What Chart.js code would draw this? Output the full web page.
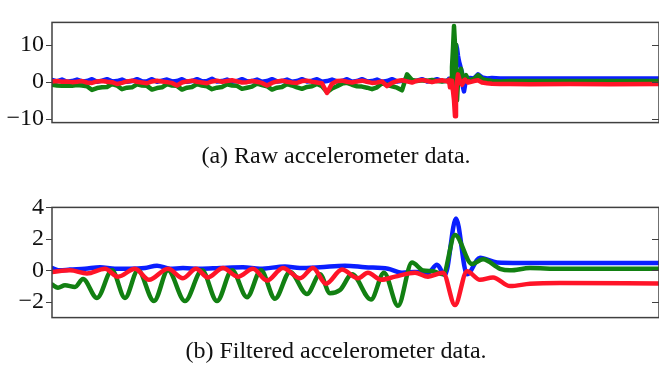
<!DOCTYPE html>
<html>
<head>
<meta charset="utf-8">
<script src="https://cdn.jsdelivr.net/npm/chart.js@4.4.1/dist/chart.umd.min.js"></script>
<style>
body { margin: 0; background: #fff; width: 659px; height: 383px; overflow: hidden; position: relative; }
canvas { position: absolute; left: 0; }
#raw { top: 0; }
#filt { top: 185px; }
.cap { position: absolute; left: 0; width: 672px; text-align: center; font-family: "Liberation Serif", "Times New Roman", Times, "DejaVu Serif", serif; font-size: 24px; line-height: 24px; color: #111; }
</style>
</head>
<body>
<canvas id="raw" width="659" height="145"></canvas>
<div class="cap" style="top:143px">(a) Raw accelerometer data.</div>
<canvas id="filt" width="659" height="155"></canvas>
<div class="cap" style="top:338px">(b) Filtered accelerometer data.</div>
<script>
// raw samples (shared time base)
const rawTime = [
  0,5,10,15,20,25,30,35,40,45,
  50,55,60,65,70,75,80,85,90,95,
  100,105,110,115,120,125,130,135,140,145,
  150,155,160,165,170,175,180,185,190,195,
  200,205,210,215,220,225,230,235,240,245,
  250,255,260,265,270,275,280,285,290,295,
  300,305,310,315,320,325,330,335,340,345,
  350,355,360,365,370,375,380,385,390,395,
  396,397,398,399,400,401,402,403,404,405,406,407,408,409,410,411,412,413,414,415,416,417,418,
  422,426,430,435,440,448,458,478,518,558,607
];
const rawBlue = [
  0.5,0.1,0.6,0.0,0.2,0.6,0.1,0.2,0.7,0.0,
  0.3,0.7,0.1,0.2,0.6,0.0,0.2,0.7,0.1,0.1,
  0.7,0.0,0.3,0.6,0.1,0.2,0.7,0.0,0.2,0.7,
  0.1,0.2,0.8,0.1,0.2,0.6,0.0,0.2,0.7,0.1,
  0.2,0.6,0.0,0.2,0.7,0.1,0.2,0.6,0.0,0.2,
  0.7,0.1,0.3,0.7,0.0,0.2,0.6,0.1,0.2,0.7,
  0.0,0.2,0.7,0.1,0.2,0.6,0.0,0.2,0.7,0.1,
  0.3,0.8,0.2,0.3,0.7,0.1,0.3,0.7,0.2,0.3,
  0.4,0.8,0.2,-0.6,0.5,2.0,5.0,8.0,10.0,9.0,7.0,5.5,4.5,3.5,2.5,-1.5,-2.6,-1.0,0.5,1.2,0.8,0.6,1.0,
  0.9,2.0,1.2,0.9,1.0,0.9,0.9,0.9,0.9,0.9,0.9
];
const rawGreen = [
  -0.8,-1.0,-1.1,-1.0,-1.1,-0.9,-1.0,-1.2,-2.2,-1.7,
  -1.5,-1.4,-0.6,-1.0,-2.0,-1.6,-1.5,-0.7,-1.0,-1.1,
  -2.1,-1.7,-1.5,-0.6,-1.0,-1.1,-2.1,-1.6,-1.4,-0.6,
  -1.0,-1.2,-2.0,-1.6,-1.4,-0.7,-1.0,-1.1,-1.9,-1.6,
  -1.3,-0.5,-0.9,-1.2,-2.1,-1.6,-1.4,-0.6,-1.0,-1.5,
  -1.9,-1.4,-1.2,-0.6,-1.2,-2.8,-1.8,-1.2,-0.5,-0.3,
  -0.8,-1.2,-1.3,-1.6,-2.0,-1.5,-0.4,-0.8,-1.2,-1.6,
  -2.3,2.0,0.5,0.2,0.4,0.3,0.5,0.2,0.1,0.3,
  0.2,0.0,-0.5,1.0,4.0,9.0,15.0,10.0,2.0,-5.0,0.0,3.0,2.5,3.5,2.0,0.5,1.0,1.5,1.8,1.2,0.6,0.3,0.5,
  0.8,1.8,0.8,0.4,0.2,0.1,0.2,0.2,0.2,0.2,0.2
];
const rawRed = [
  0.1,0.2,0.0,0.1,-0.1,0.0,0.2,-0.2,-0.3,0.1,
  0.2,0.0,-0.1,-0.6,-0.3,0.1,0.3,0.0,-0.2,-0.4,
  0.1,0.3,0.1,-0.1,-0.3,-1.0,-0.2,0.1,0.3,0.0,
  -0.2,-0.4,0.1,0.3,0.0,0.2,0.4,0.1,-0.2,-0.1,
  0.2,0.0,-0.3,-1.0,-0.3,0.1,0.3,0.0,-0.2,-0.3,
  0.2,0.3,0.0,-0.2,-0.4,-3.0,-0.5,0.2,0.3,0.0,
  -0.2,0.1,0.3,0.0,-0.3,-0.2,0.1,-1.2,-0.3,0.2,
  0.4,0.1,-0.2,0.3,0.5,0.2,-0.1,0.2,0.4,0.1,
  0.3,0.5,-1.5,0.3,-1.0,-2.5,-5.0,-9.3,-4.0,0.0,2.0,1.0,0.2,-0.5,-0.8,-0.3,0.4,0.6,0.3,0.0,-0.2,0.1,-0.1,
  0.2,0.4,-0.2,-0.4,-0.5,-0.6,-0.6,-0.65,-0.6,-0.65,-0.6
];

// filtered signals (sample time, value)
const filtBlueT = [0,8,18,33,48,63,78,93,105,118,131,148,168,191,208,233,248,268,293,313,336,350,363,376,385,393,404,415,428,445,468,607];
const filtBlue  = [0.15,0,0.05,0.1,0.2,0.1,0.1,0.15,0.3,0.1,0.15,0.1,0.15,0.2,0.1,0.25,0.15,0.2,0.3,0.2,0.1,-0.15,-0.1,-0.15,0.35,-0.3,3.3,-0.25,0.8,0.5,0.47,0.47];
const filtGreenT = [0,6,13,23,31,45,60,73,86,102,116,133,150,165,180,195,209,223,238,255,268,278,288,300,319,332,346,360,371,381,391,403,420,431,448,458,478,508,607];
const filtGreen  = [-0.9,-1.1,-0.95,-1.05,-0.55,-1.75,0,-1.75,0,-1.95,0,-1.95,0,-1.95,0,-1.7,0,-1.8,-0.1,-1.5,-0.25,-1.45,-1.25,-0.25,-1.85,-0.15,-2.25,0.5,0,-0.05,-0.25,2.25,0.4,0.7,0.1,0.0,0.15,0.1,0.1];
const filtRedT = [0,18,35,53,66,83,97,116,131,144,156,171,186,201,215,231,248,261,274,290,306,316,329,343,363,376,391,403,415,428,441,458,478,508,607];
const filtRed  = [-0.1,0,-0.2,0.1,-0.4,0.1,-0.6,0.1,-0.5,0.1,-0.45,0.15,-0.4,0.1,-0.65,0.15,-0.5,0.15,-0.85,0.05,-0.5,-0.15,-0.6,-0.4,-0.15,-0.4,-0.15,-2.2,-0.05,-0.6,-0.45,-1.0,-0.85,-0.8,-0.83];

const rawTicks = [-10, 0, 10];
const filtTicks = [-2, 0, 2, 4];

const BLUE = '#0a1eff', GREEN = '#128012', RED = '#ff1428';
const SERIF = '"Liberation Serif", "Times New Roman", Times, "DejaVu Serif", serif';

const frame = {
  id: 'frame',
  afterDraw(chart) {
    const { ctx, chartArea: a } = chart;
    const y = chart.scales.y;
    ctx.save();
    ctx.strokeStyle = '#404040';
    ctx.lineWidth = 1.5;
    ctx.strokeRect(a.left, a.top, a.right - a.left, a.bottom - a.top);
    ctx.lineWidth = 1.2;
    ctx.beginPath();
    y.ticks.forEach(t => {
      const py = Math.round(y.getPixelForValue(t.value)) + 0.5;
      ctx.moveTo(a.left - 6, py); ctx.lineTo(a.left, py);
      ctx.moveTo(a.right - 7, py); ctx.lineTo(a.right, py);
    });
    ctx.stroke();
    ctx.restore();
  }
};

function zip(t, v) { return t.map((x, i) => ({ x: x, y: v[i] })); }

function line(label, data, color, order, smooth) {
  return {
    label, data, order,
    borderColor: color, borderWidth: 4.5, pointRadius: 0, fill: false,
    borderJoinStyle: 'round', borderCapStyle: 'round',
    cubicInterpolationMode: smooth ? 'monotone' : 'default', tension: 0
  };
}

function makeChart(id, datasets, min, max, ticks, pad) {
  new Chart(document.getElementById(id), {
    type: 'line',
    data: { datasets },
    options: {
      responsive: false, animation: false, events: [],
      layout: { padding: pad },
      plugins: { legend: { display: false }, tooltip: { enabled: false } },
      scales: {
        x: { type: 'linear', min: 0, max: 607, display: false },
        y: {
          min, max,
          afterBuildTicks: s => { s.ticks = ticks.map(v => ({ value: v })); },
          afterFit: s => { s.width = 52; },
          grid: { display: false, drawTicks: false },
          border: { display: false },
          ticks: {
            padding: 8, color: '#111',
            font: { family: SERIF, size: 24 },
            callback: v => v < 0 ? '\u2212' + Math.abs(v) : String(v)
          }
        }
      }
    },
    plugins: [frame]
  });
}

makeChart('raw', [
  line('x', zip(rawTime, rawBlue), BLUE, 3, false),
  line('y', zip(rawTime, rawGreen), GREEN, 2, false),
  line('z', zip(rawTime, rawRed), RED, 1, false)
], -11, 16, rawTicks, { top: 2, right: 0, bottom: 9, left: 0 });

makeChart('filt', [
  line('x', zip(filtBlueT, filtBlue), BLUE, 3, true),
  line('y', zip(filtGreenT, filtGreen), GREEN, 2, true),
  line('z', zip(filtRedT, filtRed), RED, 1, true)
], -3, 4, filtTicks, { top: 15, right: 0, bottom: 8, left: 0 });
</script>
</body>
</html>
